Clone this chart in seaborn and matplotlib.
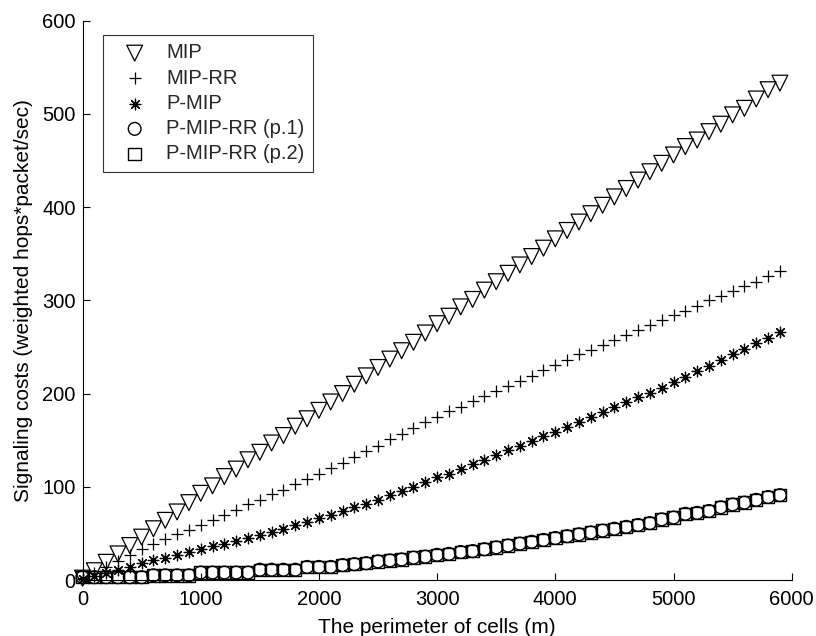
import numpy as np
import pandas as pd
import matplotlib
matplotlib.use("Agg")
import matplotlib.pyplot as plt
import seaborn as sns

# ---- data ----
perimeter = list(range(0, 6000, 100))  # 0 .. 5900 m

mip = [2, 10, 19, 28, 37, 46, 55, 64, 73, 83,
       93, 101, 111, 119, 129, 137, 147, 155, 165, 173,
       182, 191, 200, 210, 219, 228, 237, 246, 255, 265,
       275, 283, 293, 301, 311, 320, 329, 338, 347, 356,
       366, 375, 384, 393, 402, 411, 420, 429, 438, 447,
       456, 465, 472, 481, 489, 499, 506, 516, 526, 533]

mip_rr = [2, 8, 14, 20, 27, 33, 39, 44, 49, 54,
          59, 64, 70, 75, 81, 86, 92, 97, 103, 108,
          114, 120, 126, 132, 138, 144, 151, 157, 163, 169,
          175, 181, 186, 192, 197, 203, 208, 214, 219, 225,
          231, 236, 242, 247, 252, 258, 263, 268, 274, 279,
          284, 289, 294, 300, 305, 310, 315, 320, 326, 331]

p_mip = [1, 4, 7, 11, 14, 18, 21, 24, 27, 30,
         33, 36, 39, 42, 45, 48, 52, 55, 59, 62,
         66, 70, 74, 78, 82, 86, 91, 95, 100, 105,
         110, 114, 119, 124, 129, 134, 139, 144, 149, 154,
         159, 164, 170, 175, 180, 186, 191, 196, 201, 206,
         212, 218, 224, 230, 236, 242, 248, 254, 260, 266]

p_mip_rr_1 = [3, 3, 3, 3, 3, 3, 5, 5, 5, 5,
              8, 8, 8, 8, 8, 11, 11, 11, 11, 14,
              14, 14, 16, 17, 18, 20, 21, 22, 24, 25,
              27, 28, 30, 31, 33, 35, 37, 39, 41, 43,
              45, 47, 49, 51, 53, 55, 57, 59, 61, 65,
              67, 71, 72, 74, 78, 81, 83, 86, 89, 91]

p_mip_rr_2 = [3, 3, 3, 3, 3, 3, 5, 5, 5, 5,
              8, 8, 8, 8, 8, 11, 11, 11, 11, 14,
              14, 14, 16, 17, 18, 20, 21, 22, 24, 25,
              27, 28, 30, 31, 33, 35, 37, 39, 41, 43,
              45, 47, 49, 51, 53, 55, 57, 59, 61, 65,
              67, 71, 72, 74, 78, 81, 83, 86, 89, 91]

labels = ["MIP", "MIP-RR", "P-MIP", "P-MIP-RR (p.1)", "P-MIP-RR (p.2)"]
xticks = [0, 1000, 2000, 3000, 4000, 5000, 6000]
yticks = [0, 100, 200, 300, 400, 500, 600]

# ---- style ----
sns.set_theme(style="ticks")
plt.rcParams["font.family"] = ["Liberation Sans", "DejaVu Sans"]
plt.rcParams["xtick.direction"] = "in"
plt.rcParams["ytick.direction"] = "in"

fig = plt.figure(figsize=(8.16, 6.36), dpi=100)
ax = fig.add_axes([82.5 / 816, 1 - 580 / 636, (791.7 - 82.5) / 816, (580 - 20.7) / 636])

series = [mip, mip_rr, p_mip, p_mip_rr_1, p_mip_rr_2]
markers = ["v", "+", (8, 2, 0), "o", "s"]
sizes = [130, 75, 58, 84, 80]
widths = [0.9, 0.9, 0.9, 1.0, 1.0]
filled = [True, False, False, True, True]

for vals, lab, mk, sz, lw, fl in zip(series, labels, markers, sizes, widths, filled):
    df = pd.DataFrame({"x": perimeter, "y": vals})
    if fl:
        sns.scatterplot(data=df, x="x", y="y", ax=ax, marker=mk, s=sz,
                        facecolors="none", edgecolor="black", linewidth=lw,
                        label=lab, clip_on=False, zorder=3)
    else:
        sns.scatterplot(data=df, x="x", y="y", ax=ax, marker=mk, s=sz,
                        color="black", linewidth=lw,
                        label=lab, clip_on=False, zorder=3)

ax.set_xlim(0, 6000)
ax.set_ylim(0, 600)
ax.set_xticks(xticks)
ax.set_yticks(yticks)
ax.tick_params(axis="both", labelsize=14.5, length=5, width=0.8, color="black",
               labelcolor="black")
ax.tick_params(axis="x", pad=7.5)
ax.tick_params(axis="y", pad=5)
for s in ["top", "right"]:
    ax.spines[s].set_visible(False)
for s in ["left", "bottom"]:
    ax.spines[s].set_color("black")
    ax.spines[s].set_linewidth(0.8)

ax.set_xlabel("The perimeter of cells (m)", fontsize=15, color="black", labelpad=6)
ax.set_ylabel("Signaling costs (weighted hops*packet/sec)", fontsize=15,
              color="black", labelpad=6.5)

leg = ax.legend(loc="upper left", bbox_to_anchor=(0.029, 0.9745), borderaxespad=0,
                fontsize=14.5, frameon=True, fancybox=False, shadow=False,
                handlelength=2.3, handletextpad=0.4, labelspacing=0.31,
                borderpad=0.42, markerscale=1.0)
leg.get_frame().set_edgecolor("black")
leg.get_frame().set_linewidth(0.8)

fig.savefig("out.png", dpi=100, facecolor="white")
